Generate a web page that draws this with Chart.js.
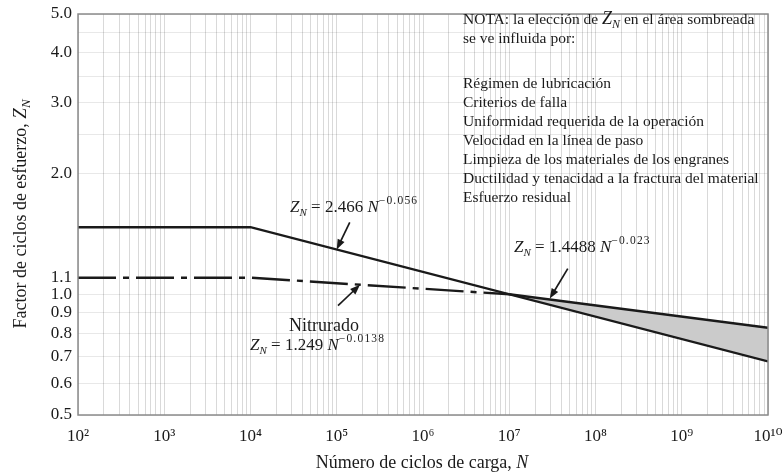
<!DOCTYPE html>
<html>
<head>
<meta charset="utf-8">
<script src="https://cdn.jsdelivr.net/npm/chart.js@4.4.1/dist/chart.umd.min.js"></script>
<style>
  html, body { margin: 0; padding: 0; background: #fff; }
  #wrap { width: 782px; height: 475px; }
</style>
</head>
<body>
<div id="wrap"><canvas id="c" width="782" height="475"></canvas></div>
<script>
// Load-cycle axis: decades 10^2 .. 10^10
const cyclePowers = [2, 3, 4, 5, 6, 7, 8, 9, 10];
const xTickLabels = ['10²', '10³', '10⁴', '10⁵', '10⁶', '10⁷', '10⁸', '10⁹', '10¹⁰'];
// Stress-cycle factor axis
const yTickValues = [0.5, 0.6, 0.7, 0.8, 0.9, 1.0, 1.1, 2.0, 3.0, 4.0, 5.0];
const yGridOnly = [2.5, 3.5, 4.5];

// Z_N = 2.466 N^-0.056 (flat below 10^4)
const steelN = [1e2, 1e4, 1e10];
const steelZ = [1.47, 1.47, 0.68];
// Nitrided: Z_N = 1.249 N^-0.0138 (flat below 10^4)
const nitridedN = [1e2, 1e4, 1e7];
const nitridedZ = [1.10, 1.10, 1.0];
// Z_N = 1.4488 N^-0.023, upper edge of the shaded band
const upperN = [1e7, 1e10];
const upperZ = [1.0, 0.825];
// Lower edge of the shaded band (same as the steel curve)
const lowerN = [1e7, 1e10];
const lowerZ = [1.0, 0.68];

const pts = (xs, ys) => xs.map((x, i) => ({ x, y: ys[i] }));

const SERIF = '"Liberation Serif", "DejaVu Serif", serif';
const INK = '#1a1a1a';

function fontOf(p) {
  return (p.i ? 'italic ' : '') + (p.s || 14) + 'px ' + SERIF;
}
function pieceWidth(ctx, p) {
  ctx.font = fontOf(p);
  const ls = p.ls || 0;
  return ctx.measureText(p.t).width + ls * p.t.length;
}
// Draws a run of text pieces (italic, sub/superscript, letter spacing)
function drawRich(ctx, x, y, parts, align) {
  ctx.save();
  ctx.textBaseline = 'alphabetic';
  ctx.textAlign = 'left';
  ctx.fillStyle = INK;
  let cx = x;
  if (align === 'center') {
    let w = 0;
    for (const p of parts) w += pieceWidth(ctx, p);
    cx = x - w / 2;
  }
  for (const p of parts) {
    ctx.font = fontOf(p);
    if (p.ls) {
      for (const ch of p.t) {
        ctx.fillText(ch, cx, y + (p.dy || 0));
        cx += ctx.measureText(ch).width + p.ls;
      }
    } else {
      ctx.fillText(p.t, cx, y + (p.dy || 0));
      cx += ctx.measureText(p.t).width;
    }
  }
  ctx.restore();
}
function arrow(ctx, x1, y1, x2, y2) {
  const a = Math.atan2(y2 - y1, x2 - x1);
  const L = 10, W = 3.8;
  ctx.save();
  ctx.strokeStyle = INK; ctx.fillStyle = INK; ctx.lineWidth = 1.7;
  ctx.beginPath();
  ctx.moveTo(x1, y1);
  ctx.lineTo(x2 - L * 0.8 * Math.cos(a), y2 - L * 0.8 * Math.sin(a));
  ctx.stroke();
  ctx.beginPath();
  ctx.moveTo(x2, y2);
  ctx.lineTo(x2 - L * Math.cos(a) + W * Math.sin(a), y2 - L * Math.sin(a) - W * Math.cos(a));
  ctx.lineTo(x2 - L * Math.cos(a) - W * Math.sin(a), y2 - L * Math.sin(a) + W * Math.cos(a));
  ctx.closePath();
  ctx.fill();
  ctx.restore();
}
const ZN = (s) => [{ t: 'Z', i: true, s }, { t: 'N', i: true, s: Math.round(s * 0.66), dy: 4 }];
const formula = (coef, exp) => [
  ...ZN(17),
  { t: ' = ' + coef + ' ', s: 17 },
  { t: 'N', i: true, s: 17 },
  { t: '−' + exp, s: 11.5, dy: -8, ls: 1.2 }
];

const annotations = {
  id: 'annotations',
  afterDraw(chart) {
    const ctx = chart.ctx;
    const xs = chart.scales.x, ys = chart.scales.y;
    const a = chart.chartArea;

    // plot frame
    ctx.save();
    ctx.strokeStyle = '#8a8a8a';
    ctx.lineWidth = 1.5;
    ctx.strokeRect(a.left, a.top, a.right - a.left, a.bottom - a.top);
    ctx.restore();

    // curve labels with pointer arrows anchored on the curves
    drawRich(ctx, 290, 212, formula('2.466', '0.056'));
    let hx = xs.getPixelForValue(1e5), hy = ys.getPixelForValue(2.466 * Math.pow(1e5, -0.056));
    arrow(ctx, hx + 13, hy - 27, hx, hy);

    drawRich(ctx, 514, 252, formula('1.4488', '0.023'));
    hx = xs.getPixelForValue(2.95e7); hy = ys.getPixelForValue(1.4488 * Math.pow(2.95e7, -0.023));
    arrow(ctx, hx + 18, hy - 30, hx, hy);

    drawRich(ctx, 324, 331, [{ t: 'Nitrurado', s: 18 }], 'center');
    drawRich(ctx, 250, 350, formula('1.249', '0.0138'));
    hx = xs.getPixelForValue(1.86e5); hy = ys.getPixelForValue(1.249 * Math.pow(1.86e5, -0.0138));
    arrow(ctx, hx - 22, hy + 21, hx, hy);

    // note block
    const nx = 463;
    drawRich(ctx, nx, 24, [{ t: 'NOTA: la elección de ', s: 15.5 }, ...ZN(18), { t: ' en el área sombreada', s: 15.5 }]);
    const noteLines = [
      [43, 'se ve influida por:'],
      [88, 'Régimen de lubricación'],
      [107, 'Criterios de falla'],
      [126, 'Uniformidad requerida de la operación'],
      [145, 'Velocidad en la línea de paso'],
      [164, 'Limpieza de los materiales de los engranes'],
      [183, 'Ductilidad y tenacidad a la fractura del material'],
      [202, 'Esfuerzo residual']
    ];
    for (const [y, t] of noteLines) drawRich(ctx, nx, y, [{ t, s: 15.5 }]);

    // axis titles
    drawRich(ctx, 422, 468, [{ t: 'Número de ciclos de carga, ', s: 18 }, { t: 'N', i: true, s: 18 }], 'center');
    ctx.save();
    ctx.translate(26, 214);
    ctx.rotate(-Math.PI / 2);
    drawRich(ctx, 0, 0, [{ t: 'Factor de ciclos de esfuerzo, ', s: 18 }, ...ZN(19)], 'center');
    ctx.restore();
  }
};

new Chart(document.getElementById('c'), {
  type: 'line',
  data: {
    datasets: [
      { label: 'steel', data: pts(steelN, steelZ), borderColor: INK, borderWidth: 2.4, pointRadius: 0, fill: false },
      { label: 'nitrided', data: pts(nitridedN, nitridedZ), borderColor: INK, borderWidth: 2.4, borderDash: [38, 7, 6, 7], pointRadius: 0, fill: false },
      { label: 'upper', data: pts(upperN, upperZ), borderColor: INK, borderWidth: 2.4, pointRadius: 0, fill: 3, backgroundColor: '#cbcbcb' },
      { label: 'lower', data: pts(lowerN, lowerZ), borderColor: 'rgba(0,0,0,0)', borderWidth: 0, pointRadius: 0, fill: false }
    ]
  },
  options: {
    responsive: false,
    animation: false,
    events: [],
    layout: { padding: { top: 14, right: 14, left: 0, bottom: 0 } },
    plugins: { legend: { display: false }, tooltip: { enabled: false }, title: { display: false } },
    scales: {
      x: {
        type: 'logarithmic',
        min: 1e2, max: 1e10,
        afterBuildTicks(scale) {
          const t = [];
          cyclePowers.forEach((p, k) => {
            for (let m = 1; m <= 9; m++) {
              if (k === cyclePowers.length - 1 && m > 1) break;
              t.push({ value: m * Math.pow(10, p) });
            }
          });
          scale.ticks = t;
        },
        afterFit(scale) { scale.height = 60; scale.paddingLeft = 0; scale.paddingRight = 0; },
        border: { display: false },
        grid: {
          drawTicks: false,
          color: 'rgba(0,0,0,0.15)',
          lineWidth: 1
        },
        ticks: {
          autoSkip: false, maxRotation: 0, padding: 11,
          color: INK,
          font: { family: SERIF, size: 17 },
          callback(v) {
            const p = Math.round(Math.log10(v));
            if (Math.abs(v - Math.pow(10, p)) / v > 1e-6) return '';
            const i = cyclePowers.indexOf(p);
            return i >= 0 ? xTickLabels[i] : '';
          }
        }
      },
      y: {
        type: 'logarithmic',
        min: 0.5, max: 5.0,
        afterBuildTicks(scale) {
          scale.ticks = [...yTickValues, ...yGridOnly].sort((a, b) => a - b).map(v => ({ value: v }));
        },
        afterFit(scale) { scale.width = 78; scale.paddingTop = 0; scale.paddingBottom = 0; },
        border: { display: false },
        grid: {
          drawTicks: false,
          color: (c) => (c.tick && Math.abs(c.tick.value - 1.1) < 1e-6) ? 'rgba(0,0,0,0)' : 'rgba(0,0,0,0.09)',
          lineWidth: 1
        },
        ticks: {
          autoSkip: false, padding: 6,
          color: INK,
          font: { family: SERIF, size: 17 },
          callback(v) {
            return yTickValues.some(t => Math.abs(t - v) < 1e-9) ? Number(v).toFixed(1) : '';
          }
        }
      }
    }
  },
  plugins: [annotations]
});
</script>
</body>
</html>
